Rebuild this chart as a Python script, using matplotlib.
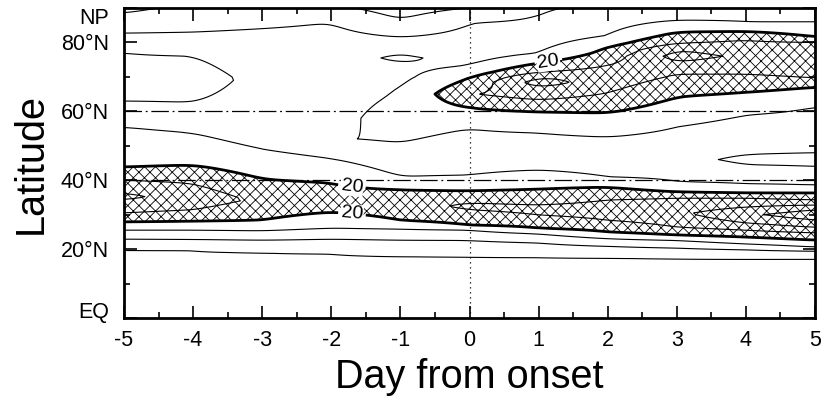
import numpy as np
import matplotlib
matplotlib.use('Agg')
import matplotlib.pyplot as plt

plt.rcParams['font.family'] = ['Liberation Sans', 'DejaVu Sans']
plt.rcParams['axes.unicode_minus'] = False
plt.rcParams['hatch.linewidth'] = 0.6

# zonal wind composite: for each day, latitudes where a value is known and the value there
days = [-5, -4, -3, -2, -1, 0, 1, 2, 3, 4, 5]

lat_m5 = [0, 19.7, 22.9, 25.5, 27.9, 30.5, 34.3, 35.3, 36.3, 40.0, 43.8, 49.0, 55.4, 59.0, 63.0, 70.0, 77.0, 79.0, 82.7, 88.5, 90]
u_m5 = [0, 5, 10, 15, 20, 25, 30, 31, 30, 25, 20, 17, 15, 13.5, 15, 16.5, 15, 13, 10, 5, 4]

lat_m4 = [0, 19.6, 22.8, 25.5, 28.1, 31.4, 35.0, 39.0, 44.4, 49.0, 53.7, 58.0, 62.6, 69.0, 76.0, 79.0, 83.0, 90]
u_m4 = [0, 5, 10, 15, 20, 25, 28, 25, 20, 17, 15, 13.5, 15, 16.5, 15, 13, 10, 6]

lat_m3 = [0, 18.9, 22.6, 25.3, 28.4, 34.0, 40.3, 45.0, 49.0, 56.0, 62.0, 70.0, 78.0, 84.0, 90]
u_m3 = [0, 5, 10, 15, 20, 24, 20, 17, 15, 12, 13.5, 14, 13, 10, 7]

lat_m2 = [0, 18.6, 22.9, 26.1, 30.8, 35.0, 39.2, 46.3, 49.0, 52.0, 58.0, 66.0, 75.5, 80.0, 85.8, 90]
u_m2 = [0, 5, 10, 15, 20, 22, 20, 15, 13.5, 14.8, 13.5, 13, 13, 12, 10, 6]

lat_m1 = [0, 17.8, 22.6, 25.8, 28.4, 33.0, 37.2, 41.0, 46.0, 50.8, 58.0, 66.2, 70.0, 73.0, 74.2, 75.5, 76.8, 78.5, 81.5, 86.5, 90]
u_m1 = [0, 5, 10, 15, 20, 23, 20, 15, 12.5, 15, 17, 15, 13.8, 13.5, 15, 15.8, 15, 13, 10, 5, 3]

lat_0 = [0, 17.7, 22.5, 25.5, 27.0, 31.4, 32.4, 33.4, 36.9, 41.5, 47.0, 55.0, 61.0, 65.0, 69.5, 73.3, 76.0, 85.6, 90]
u_0 = [0, 5, 10, 15, 20, 25, 26, 25, 20, 15, 12.5, 15, 20, 24.7, 20, 15, 13, 10, 5.05]

lat_1 = [0, 17.5, 21.8, 24.4, 26.1, 29.9, 31.4, 32.8, 37.4, 43.0, 48.0, 53.7, 59.8, 63.3, 67.0, 68.4, 69.8, 71.4, 74.0, 76.9, 82.0, 88.0, 90]
u_1 = [0, 5, 10, 15, 20, 25, 26, 25, 20, 15, 12.5, 15, 20, 25, 30, 32.5, 30, 25, 20, 15, 12, 10, 9.5]

lat_2 = [0, 17.4, 20.8, 23.0, 25.0, 28.4, 31.0, 34.3, 38.0, 41.0, 47.0, 52.5, 59.5, 65.3, 70.0, 73.4, 78.4, 82.0, 88.0, 90]
u_2 = [0, 5, 10, 15, 20, 25, 27, 25, 20, 15, 12, 15, 20, 25, 28, 25, 20, 15, 12, 11]

lat_3 = [0, 17.2, 20.3, 22.5, 24.1, 26.4, 30.5, 34.8, 36.6, 39.6, 46.0, 55.5, 64.2, 70.8, 74.3, 76.0, 77.8, 79.8, 83.0, 86.5, 90]
u_3 = [0, 5, 10, 15, 20, 25, 29, 25, 20, 15, 11.5, 15, 20, 25, 30, 32, 30, 25, 20, 15, 13.5]

lat_4 = [0, 17.0, 19.8, 21.5, 23.5, 25.5, 27.6, 30.0, 32.2, 34.8, 36.3, 39.0, 44.5, 46.0, 47.5, 58.9, 65.5, 70.8, 76.0, 80.7, 83.2, 86.0, 90]
u_4 = [0, 5, 10, 15, 20, 25, 30, 34, 30, 25, 20, 15, 10, 9, 10, 15, 20, 25, 29, 25, 20, 15, 13.5]

lat_5 = [0, 17.1, 19.4, 20.6, 22.6, 24.7, 26.3, 28.4, 30.0, 31.4, 32.8, 34.3, 36.3, 38.6, 44.0, 46.0, 48.0, 61.3, 67.0, 69.7, 75.0, 80.0, 81.6, 86.0, 90]
u_5 = [0, 5, 10, 15, 20, 25, 30, 35, 38, 35, 30, 25, 20, 15, 10, 9, 10, 15, 20, 25, 29.5, 25, 20, 15, 13]

lats = [lat_m5, lat_m4, lat_m3, lat_m2, lat_m1, lat_0, lat_1, lat_2, lat_3, lat_4, lat_5]
winds = [u_m5, u_m4, u_m3, u_m2, u_m1, u_0, u_1, u_2, u_3, u_4, u_5]

# put every day on one latitude grid, then fill in between the days
lat_grid = np.linspace(0, 90, 361)
cols = np.array([np.interp(lat_grid, la, u) for la, u in zip(lats, winds)]).T
day_grid = np.linspace(-5, 5, 201)
field = np.array([np.interp(day_grid, days, row) for row in cols])

# soften the kinks at whole days
k = np.arange(-10, 11)
kernel = np.exp(-0.5 * (k / 3.0) ** 2)
kernel /= kernel.sum()
padded = np.pad(field, ((0, 0), (10, 10)), mode='edge')
field = np.array([np.convolve(row, kernel, mode='valid') for row in padded])

X, Y = np.meshgrid(day_grid, lat_grid)

fig = plt.figure(figsize=(8.22, 3.97), dpi=100)
ax = fig.add_axes([124 / 822, 79 / 397, 691 / 822, 310 / 397])

ax.contourf(X, Y, field, levels=[20, 200], colors='none', hatches=['xxx'])
ax.contour(X, Y, field, levels=[5, 10, 15, 25, 30, 35, 40], colors='black', linewidths=0.8)
cs20 = ax.contour(X, Y, field, levels=[20], colors='black', linewidths=2.0)
labels = ax.clabel(cs20, fmt='%d', fontsize=14, inline=True, inline_spacing=3,
                   manual=[(1.15, 73.5), (-1.7, 38.5), (-1.7, 30.5)])
for t in labels:
    t.set_bbox(dict(facecolor='white', edgecolor='none', pad=0.5))

for lat in [40, 60]:
    ax.axhline(lat, color='black', lw=0.9, linestyle=(0, (14, 3, 1.5, 3)))
ax.axvline(0, color='black', lw=0.9, linestyle=(0, (1, 3)))

ax.set_xlim(-5, 5)
ax.set_ylim(0, 90)
ax.set_xticks(range(-5, 6))
ax.set_xticks(np.arange(-4.5, 5, 1), minor=True)
ax.set_yticks([0, 20, 40, 60, 80, 90])
ax.set_yticklabels(['EQ', '20°N', '40°N', '60°N', '80°N', 'NP'])
ax.set_yticks([10, 30, 50, 70], minor=True)
ax.tick_params(which='both', direction='in', top=True, right=True, labelsize=15.5, width=1.2)
ax.tick_params(which='major', length=9)
ax.tick_params(which='minor', length=4.5)
ax.tick_params(axis='x', which='major', pad=9)
ax.tick_params(axis='y', which='major', pad=11)
ylabs = ax.get_yticklabels()
ylabs[0].set_va('baseline')
ylabs[-1].set_va('top')
for s in ax.spines.values():
    s.set_linewidth(2.0)

ax.set_xlabel('Day from onset', fontsize=28.5, labelpad=5)
ax.set_ylabel('Latitude', fontsize=28.5, labelpad=8)

fig.savefig('out.png', dpi=100)
